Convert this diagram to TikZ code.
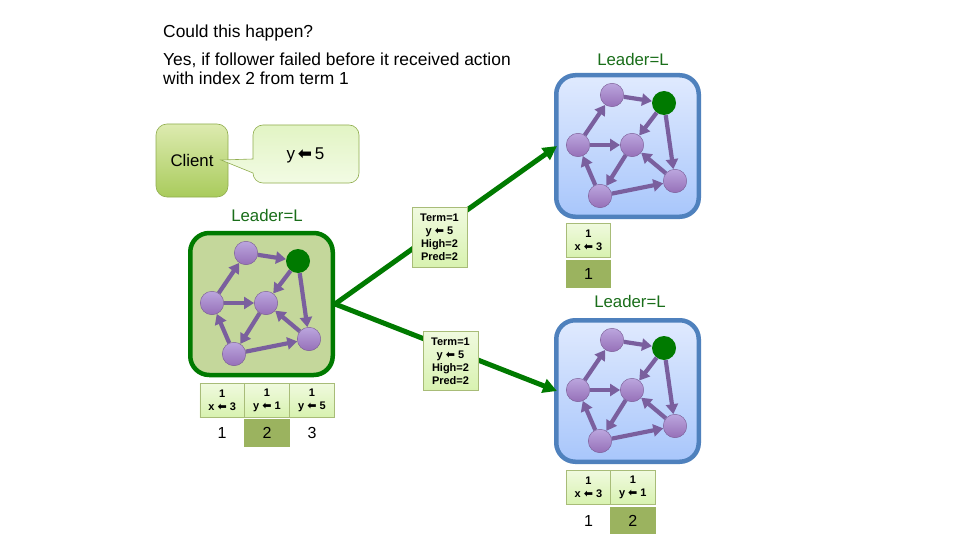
\documentclass[tikz,border=0pt]{standalone}
\usepackage{fontspec}
\setmainfont{Liberation Sans}
\newfontfamily\arrfont{DejaVu Sans}
\usetikzlibrary{arrows.meta,calc}
\definecolor{purpE}{HTML}{7A5F9E}
\definecolor{purpT}{HTML}{BBA6DE}
\definecolor{purpB}{HTML}{9670B8}
\definecolor{lead}{HTML}{007A00}
\definecolor{leadtxt}{HTML}{1A6E1A}
\definecolor{cellB}{HTML}{A8BC78}
\definecolor{idx}{HTML}{9BB35F}
\newcommand{\larr}{{\arrfont\bfseries ⬅}}
\tikzset{
  x=1pt,y=-1pt,
  vertex/.style={circle,minimum size=23.5pt,inner sep=0pt,draw=purpB!80!black,line width=.4pt,top color=purpT,bottom color=purpB},
  leadvertex/.style={circle,minimum size=24pt,inner sep=0pt,fill=lead},
  edgeline/.style={draw=purpE,line width=4.2pt,-{Triangle[length=10pt,width=12pt]}},
  greenbox/.style={rectangle,rounded corners=19pt,draw=lead,line width=4.5pt,fill=gfill,minimum width=142.5pt,minimum height=142pt},
  bluebox/.style={rectangle,rounded corners=19pt,draw=bdr,line width=4.5pt,top color=bTop,bottom color=bBot,minimum width=142.5pt,minimum height=141.5pt},
  logcell/.style={rectangle,draw=cellB,line width=.8pt,top color=cTop,bottom color=cBot,minimum width=44.5pt,minimum height=34pt,inner sep=0pt,align=center,font=\fontsize{11}{13}\selectfont\bfseries},
  msg/.style={rectangle,draw=cellB,line width=.8pt,top color=cTop,bottom color=cBot,minimum width=55pt,minimum height=59.5pt,inner sep=0pt,align=center,font=\fontsize{11}{13}\selectfont\bfseries},
  idxnum/.style={rectangle,minimum width=45.5pt,minimum height=27.5pt,inner sep=0pt,font=\fontsize{16}{18}\selectfont},
  idxon/.style={idxnum,fill=idx},
  title/.style={anchor=west,inner sep=0pt,font=\fontsize{17.4}{19}\selectfont,align=left},
  leadlabel/.style={inner sep=0pt,text=leadtxt,font=\fontsize{16.8}{19}\selectfont},
  sendline/.style={draw=lead,line width=5pt,-{Triangle[length=14pt,width=14pt]}},
}
\definecolor{gfill}{HTML}{C4D79B}
\definecolor{bdr}{HTML}{4F81BD}
\definecolor{bTop}{HTML}{E0EAFE}
\definecolor{bBot}{HTML}{A8C6FB}
\definecolor{cTop}{HTML}{F0FADF}
\definecolor{cBot}{HTML}{D8F2B0}
\definecolor{clTop}{HTML}{DDEBB0}
\definecolor{clBot}{HTML}{A9CB5C}
\definecolor{caTop}{HTML}{E2F4C4}
\definecolor{caBot}{HTML}{F2FBE4}
% #1 prefix, #2 dx, #3 dy, #4 box style
\newcommand{\cluster}[4]{%
  \begin{scope}[shift={(#2,#3)}]
    \node[#4] (#1box) at (261.5,304) {};
    \node[vertex] (#1a) at (246,253) {};
    \node[leadvertex] (#1l) at (298,261) {};
    \node[vertex] (#1b) at (212,303) {};
    \node[vertex] (#1c) at (266,303) {};
    \node[vertex] (#1d) at (309,339) {};
    \node[vertex] (#1e) at (234,354) {};
    \draw[edgeline] (#1a) -- (#1l);
    \draw[edgeline] (#1b) -- (#1a);
    \draw[edgeline] (#1b) -- (#1c);
    \draw[edgeline] (#1l) -- (#1c);
    \draw[edgeline] (#1l) -- (#1d);
    \draw[edgeline] (#1d) -- (#1c);
    \draw[edgeline] (#1c) -- (#1e);
    \draw[edgeline] (#1e) -- (#1b);
    \draw[edgeline] (#1e) -- (#1d);
  \end{scope}}
\begin{document}
\begin{tikzpicture}
\useasboundingbox[fill=white] (0,0) rectangle (960,540);
\node[title] (t1) at (163,33) {Could this happen?};
\node[title] (t2) at (163,68.5) {Yes, if follower failed before it received action\\with index 2 from term 1};
\node[leadlabel,text=leadtxt] (l1) at (633,59) {Leader=L};
\node[leadlabel] (l2) at (267,215) {Leader=L};
\node[leadlabel] (l3) at (630,301) {Leader=L};
% client
\node[rectangle,rounded corners=11pt,draw=clBot!85!black,line width=.6pt,top color=clTop,bottom color=clBot,minimum width=72pt,minimum height=73pt,inner sep=0pt,font=\fontsize{16.8}{19}\selectfont] (client) at (192,160.5) {Client};
\coordinate (tip) at (221,160);
\draw[draw=clBot!85!black,line width=.6pt,top color=caTop,bottom color=caBot]
  (tip) -- (253,159) -- (253,135) arc[start angle=180,end angle=90,x radius=10,y radius=-10]
  -- (349,125) arc[start angle=90,end angle=0,x radius=10,y radius=-10]
  -- (359,173) arc[start angle=0,end angle=-90,x radius=10,y radius=-10]
  -- (263,183) arc[start angle=-90,end angle=-180,x radius=10,y radius=-10]
  -- (253,173) -- cycle;
\node[inner sep=0pt,font=\fontsize{17}{19}\selectfont] (cmd) at (305.5,155) {y\,\larr\,5};
% clusters
\cluster{g}{0}{0}{greenbox}
\cluster{p}{366}{-158}{bluebox}
\cluster{q}{366}{87}{bluebox}
% sends
\draw[sendline] (gbox.east) -- ([xshift=3pt]pbox.west);
\draw[sendline] (gbox.east) -- ([xshift=3pt]qbox.west);
\node[msg] (m1) at (439.5,237.5) {Term=1\\y \larr\ 5\\High=2\\Pred=2};
\node[msg] (m2) at (450.5,361) {Term=1\\y \larr\ 5\\High=2\\Pred=2};
% green log
\node[logcell] (g1) at (222.2,400) {1\\x \larr\ 3};
\node[logcell] (g2) at (267,400) {1\\y \larr\ 1};
\node[logcell] (g3) at (312,400) {1\\y \larr\ 5};
\node[idxnum] (gi1) at (222,433) {1};
\node[idxon] (gi2) at (267,433) {2};
\node[idxnum] (gi3) at (312,433) {3};
% blue 1 log
\node[logcell] (p1) at (588.5,240) {1\\x \larr\ 3};
\node[idxon] (pi1) at (588.5,274) {1};
% blue 2 log
\node[logcell] (q1) at (588.5,487.5) {1\\x \larr\ 3};
\node[logcell] (q2) at (632.8,487.5) {1\\y \larr\ 1};
\node[idxnum] (qi1) at (588.5,520.5) {1};
\node[idxon] (qi2) at (632.8,520.5) {2};
\end{tikzpicture}
\end{document}
